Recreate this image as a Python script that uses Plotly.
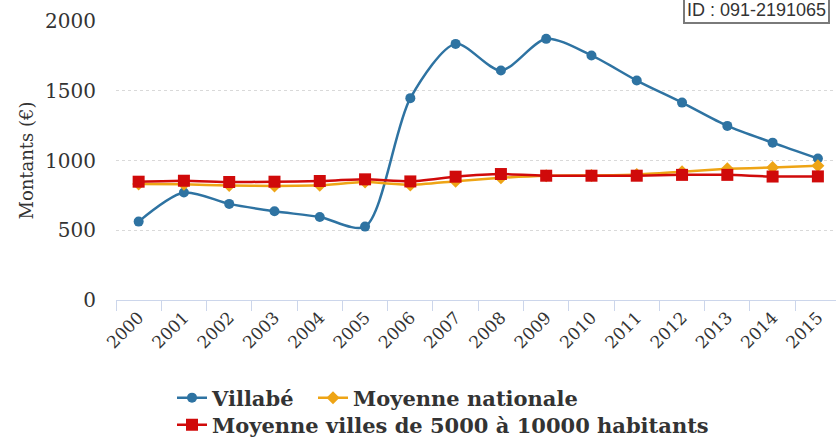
import plotly.graph_objects as go

years = [str(y) for y in range(2000, 2016)]
villabe = [562, 770, 689, 636, 595, 526, 1447, 1836, 1645, 1872, 1753, 1573, 1415, 1248, 1128, 1014]
nationale = [832, 830, 820, 818, 822, 845, 825, 852, 876, 891, 893, 900, 920, 940, 950, 962]
villes = [848, 855, 846, 848, 853, 865, 850, 884, 903, 891, 891, 891, 897, 897, 885, 886]

BLUE = "#2e73a2"
ORANGE = "#eea415"
RED = "#d00a0a"

fig = go.Figure()
fig.add_trace(go.Scatter(
    x=years, y=villabe, name="Villabé", mode="lines+markers", legend="legend",
    line=dict(color=BLUE, width=2.5, shape="spline", smoothing=0.8),
    marker=dict(symbol="circle", size=10, color=BLUE)))
fig.add_trace(go.Scatter(
    x=years, y=nationale, name="Moyenne nationale", mode="lines+markers", legend="legend3",
    line=dict(color=ORANGE, width=2.5, shape="spline", smoothing=0.5),
    marker=dict(symbol="diamond", size=10, color=ORANGE)))
fig.add_trace(go.Scatter(
    x=years, y=villes, name="Moyenne villes de 5000 à 10000 habitants", mode="lines+markers",
    legend="legend2",
    line=dict(color=RED, width=2.5, shape="spline", smoothing=0.5),
    marker=dict(symbol="square", size=12, color=RED)))

legend_font = dict(family="DejaVu Serif", size=21, color="#333333", weight="bold")
leg_common = dict(orientation="h", xanchor="left", yanchor="middle", font=legend_font,
                  xref="container", yref="container",
                  bgcolor="rgba(0,0,0,0)", itemclick=False, itemwidth=30)

fig.update_layout(
    width=836, height=438,
    margin=dict(l=116, r=0, t=21, b=138),
    paper_bgcolor="white", plot_bgcolor="white",
    font=dict(family="DejaVu Serif", color="#333333"),
    xaxis=dict(
        type="category", range=[-0.5, 15.4],
        tickson="boundaries", ticks="outside", ticklen=10, tickcolor="#ccd6eb", tickwidth=1,
        showline=True, linecolor="#ccd6eb", linewidth=1,
        showgrid=False, tickangle=-45,
        tickfont=dict(family="DejaVu Serif", size=17, color="#333333"),
    ),
    yaxis=dict(
        range=[0, 2000], tickvals=[0, 500, 1000, 1500, 2000],
        showgrid=True, gridcolor="#d9d9d9", griddash="dot", gridwidth=1,
        zeroline=False, showline=False, ticks="", ticklabelstandoff=19,
        tickfont=dict(family="DejaVu Serif", size=20, color="#333333"),
        title=dict(text="Montants (€)", font=dict(family="DejaVu Serif", size=18, color="#333333"), standoff=6),
    ),
    legend=dict(x=172 / 836, y=1 - 398 / 438, **leg_common),
    legend3=dict(x=313 / 836, y=1 - 398 / 438, **leg_common),
    legend2=dict(x=172 / 836, y=1 - 425 / 438, **leg_common),
    showlegend=True,
    annotations=[dict(
        text="ID : 091-2191065", xref="paper", yref="paper",
        x=0.7875, y=0.989, xanchor="left", yanchor="bottom", showarrow=False,
        font=dict(family="Liberation Sans", size=18, color="#333333"),
        bordercolor="#7a7a7a", borderwidth=2, borderpad=2, bgcolor="white", align="left",
    )],
)

fig.write_html("out.html", config={"displayModeBar": False},
               post_script="document.body.style.margin='0';document.body.style.overflow='hidden';")
